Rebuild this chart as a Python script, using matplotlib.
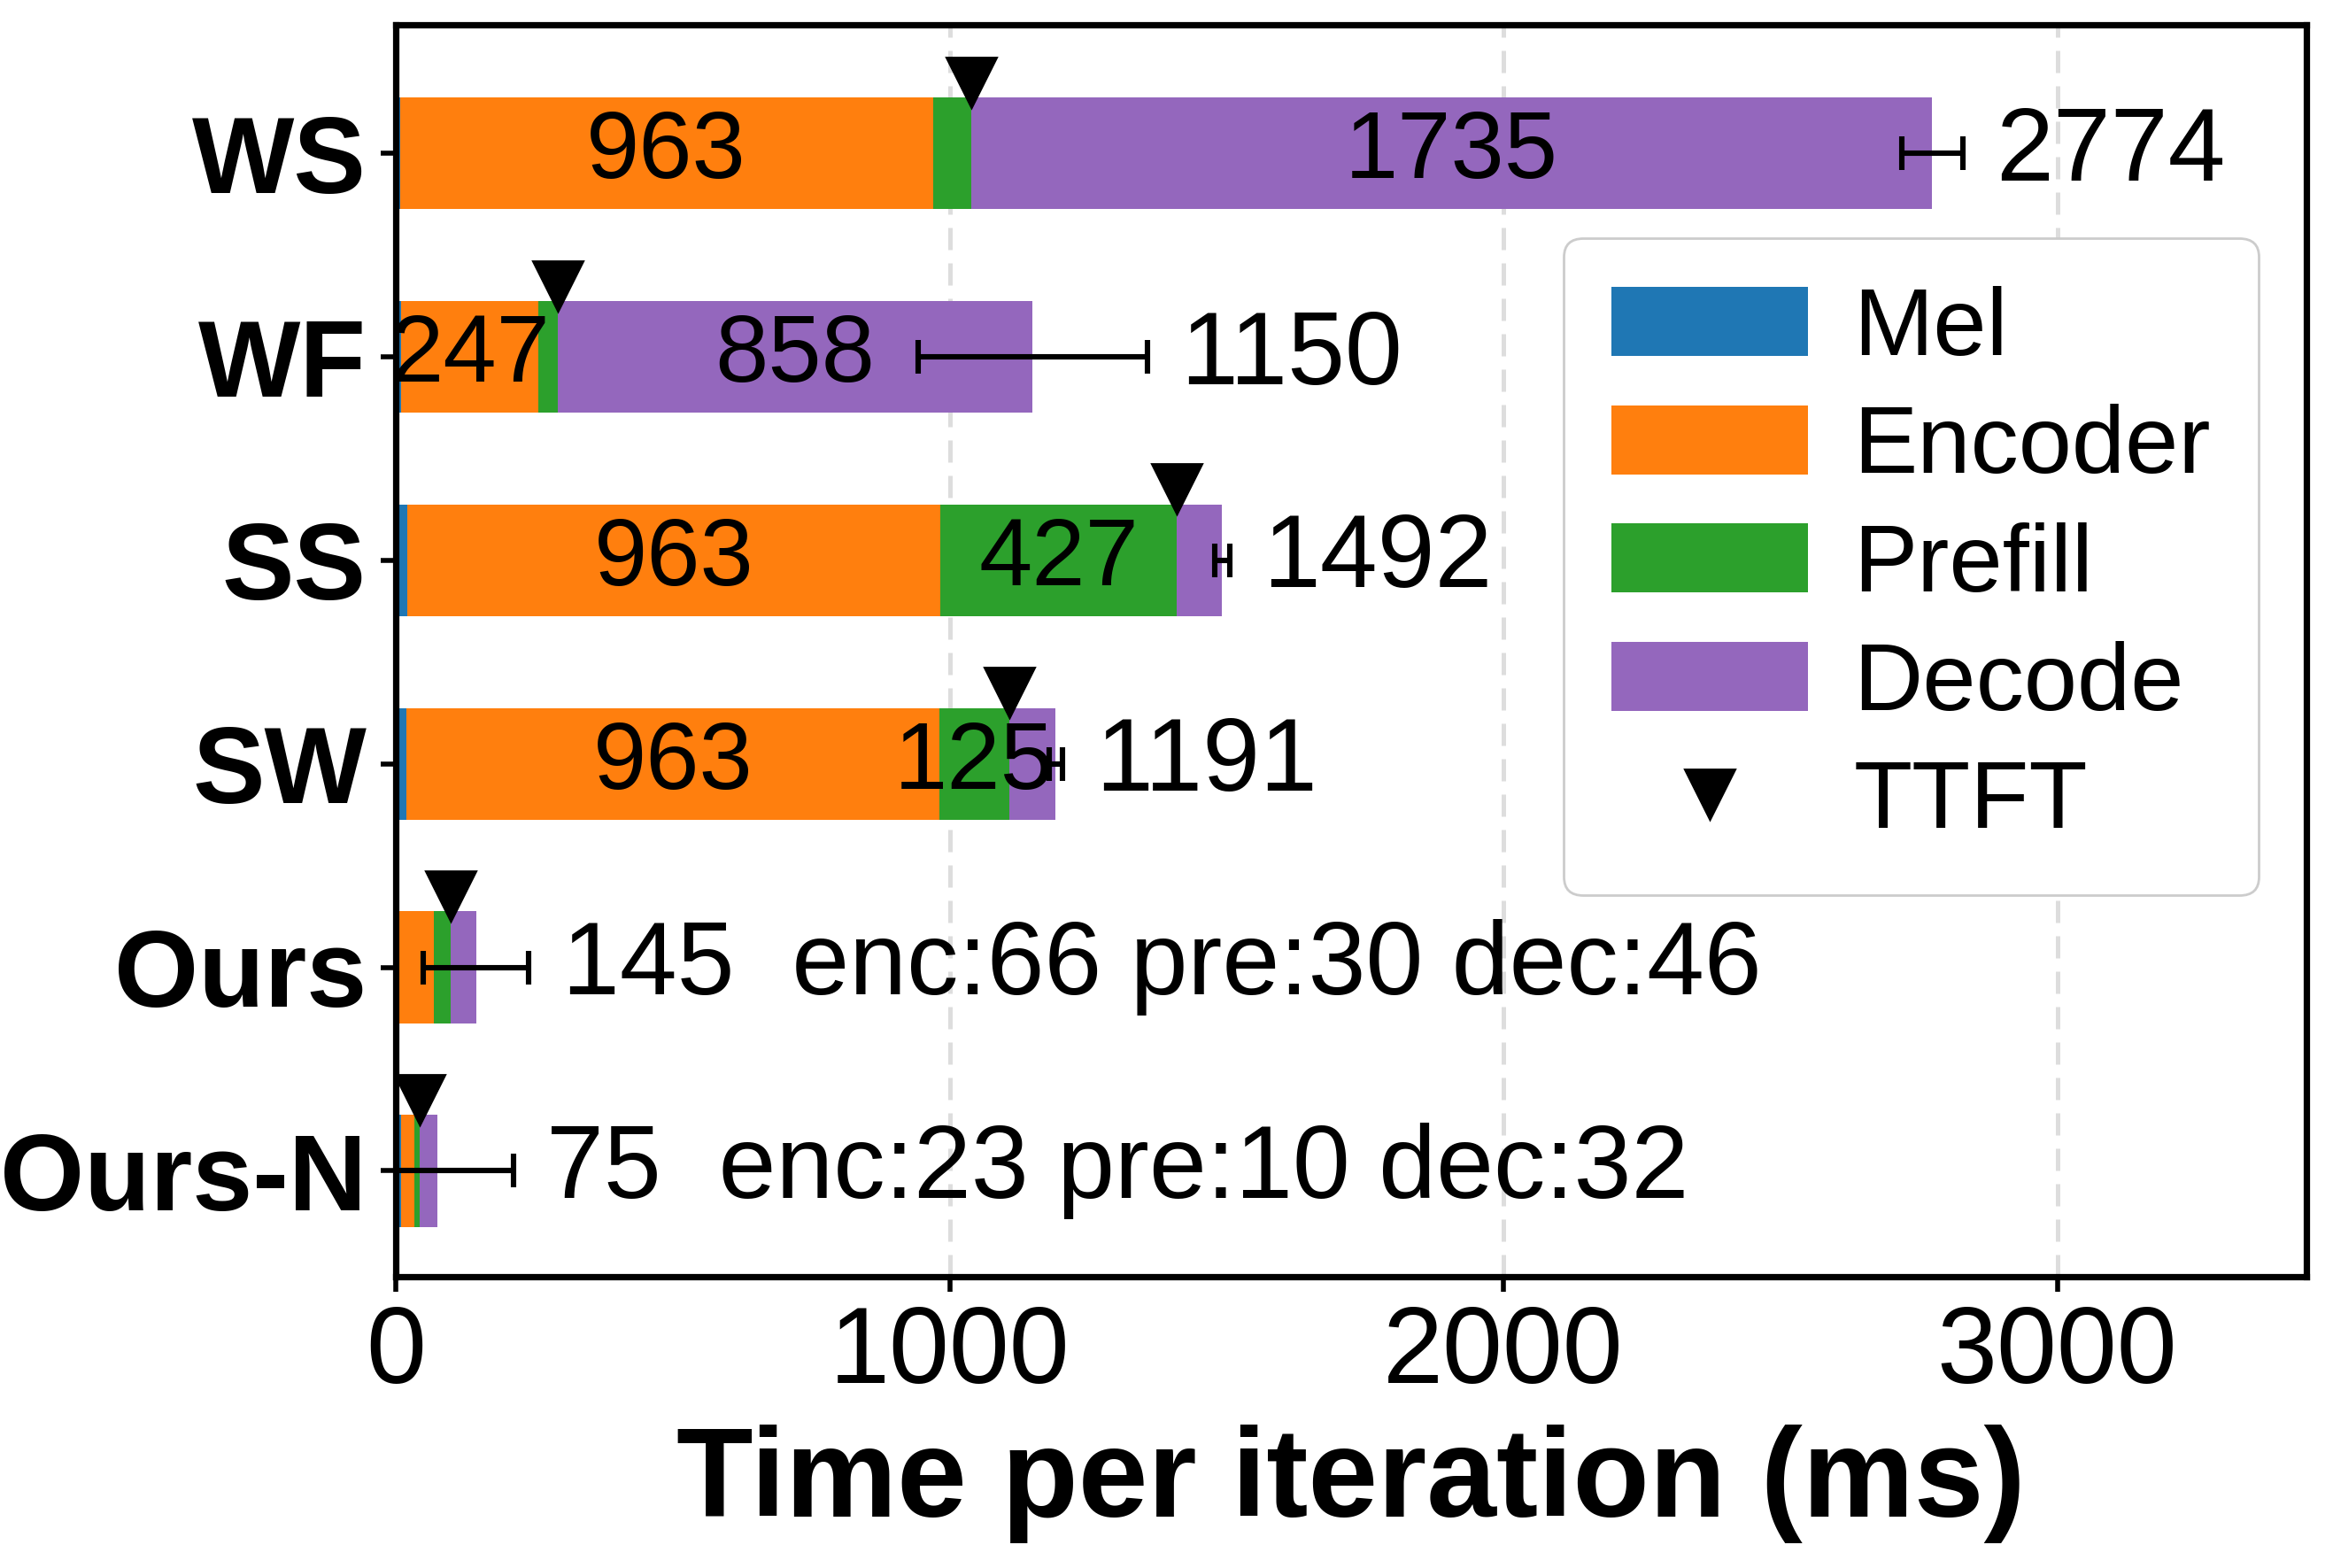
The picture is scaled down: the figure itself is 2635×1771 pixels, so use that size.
import numpy as np
import matplotlib.pyplot as plt

plt.rcParams['font.family'] = ['Liberation Sans', 'DejaVu Sans']

systems = ["WS", "WF", "SS", "SW", "Ours", "Ours-N"]
mel = [7, 10, 20, 19, 3, 10]
encoder = [963, 247, 963, 963, 66, 23]
prefill = [69, 35, 427, 125, 30, 10]
decode = [1735, 858, 82, 84, 46, 32]
totals = [2774, 1150, 1492, 1191, 145, 75]
total_err = [55, 207, 14, 12, 95, 137]

stages = ["Mel", "Encoder", "Prefill", "Decode"]
colors = ["#1f77b4", "#ff7f0e", "#2ca02c", "#9467bd"]

fig = plt.figure(figsize=(13.175, 8.855), dpi=200)
ax = fig.add_axes([0.1697, 0.1858, 0.8189, 0.7982])

y = np.arange(len(systems))
bar_h = 0.55
left = np.zeros(len(systems))
for name, vals, c in zip(stages, [mel, encoder, prefill, decode], colors):
    vals = np.array(vals, dtype=float)
    ax.barh(y, vals, height=bar_h, left=left, color=c, label=name, zorder=2, linewidth=0)
    # label big segments (> 100 ms) of the baselines
    if name != "Mel":
        for i in range(len(systems)):
            if vals[i] >= 100 and i < 4:
                ax.text(left[i] + vals[i] / 2, y[i], "%d" % vals[i], ha="center", va="center",
                        fontsize=39, zorder=5)
    left += vals

ttft = np.array(mel) + np.array(encoder) + np.array(prefill)
ax.plot(ttft, y - 0.35, linestyle="none", marker="v", markersize=20, color="black",
        label="TTFT", zorder=6, clip_on=False)

ax.errorbar(totals, y, xerr=total_err, fmt="none", ecolor="black", elinewidth=2.2,
            capsize=7, capthick=2.2, zorder=4)

for i in range(len(systems)):
    txt = "%d" % totals[i]
    if i >= 4:
        txt += "  enc:%d pre:%d dec:%d" % (encoder[i], prefill[i], decode[i])
    ax.text(totals[i] + total_err[i] + 60, y[i], txt, ha="left", va="center", fontsize=42, zorder=5)

ax.set_xlim(0, 3450)
ax.set_ylim(5.52, -0.63)
ax.set_yticks(y)
ax.set_yticklabels(systems, fontsize=44, fontweight="bold")
ax.set_xticks([0, 1000, 2000, 3000])
ax.tick_params(axis="x", labelsize=44, length=6, width=2, pad=5)
ax.tick_params(axis="y", length=6, width=2, pad=6)
ax.set_xlabel("Time per iteration (ms)", fontsize=51, fontweight="bold", labelpad=8)
ax.xaxis.grid(True, linestyle=(0, (5, 3)), color="#dddddd", linewidth=1.8, zorder=0)
ax.set_axisbelow(True)
for s in ax.spines.values():
    s.set_linewidth(2.6)

handles, labels = ax.get_legend_handles_labels()
order = [labels.index(k) for k in stages + ["TTFT"]]
ax.legend([handles[k] for k in order], [labels[k] for k in order],
          loc="upper right", bbox_to_anchor=(0.975, 0.83), borderaxespad=0, fontsize=39,
          handlelength=2.05, handleheight=0.73, labelspacing=0.31, handletextpad=0.47,
          borderpad=0.5, framealpha=1, edgecolor="#cccccc", fancybox=True)

fig.savefig("out.png", dpi=200)
